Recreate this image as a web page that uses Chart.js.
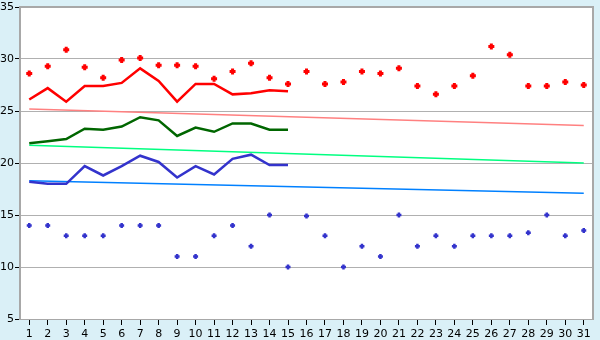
<!DOCTYPE html>
<html>
<head>
<meta charset="utf-8">
<script src="https://cdn.jsdelivr.net/npm/chart.js@4/dist/chart.umd.min.js"></script>
<style>
  html, body { margin: 0; padding: 0; background: #daf0f7; }
  #wrap { width: 600px; height: 340px; }
</style>
</head>
<body>
<div id="wrap"><canvas id="chart" width="600" height="340"></canvas></div>
<script>
const days = Array.from({ length: 31 }, (_, i) => String(i + 1));
const yTicks = [5, 10, 15, 20, 25, 30, 35];

// daily highs / lows (scatter marks)
const highPoints = [28.6, 29.3, 30.9, 29.2, 28.2, 29.9, 30.1, 29.4, 29.4, 29.3,
                    28.1, 28.8, 29.6, 28.2, 27.6, 28.8, 27.6, 27.8, 28.8, 28.6,
                    29.1, 27.4, 26.6, 27.4, 28.4, 31.2, 30.4, 27.4, 27.4, 27.8, 27.5];
const lowPoints  = [14, 14, 13, 13, 13, 14, 14, 14, 11, 11,
                    13, 14, 12, 15, 10, 14.9, 13, 10, 12, 11,
                    15, 12, 13, 12, 13, 13, 13, 13.3, 15, 13, 13.5];

// first half of the month, lines
const maxLine  = [26.1, 27.2, 25.9, 27.4, 27.4, 27.7, 29.1, 27.9, 25.9, 27.6, 27.6, 26.6, 26.7, 27.0, 26.9];
const meanLine = [21.9, 22.1, 22.3, 23.3, 23.2, 23.5, 24.4, 24.1, 22.6, 23.4, 23.0, 23.8, 23.8, 23.2, 23.2];
const minLine  = [18.2, 18.0, 18.0, 19.7, 18.8, 19.7, 20.7, 20.1, 18.6, 19.7, 18.9, 20.4, 20.8, 19.8, 19.8];

// long-term reference lines (start / end values)
const maxTrend  = [25.2, 23.6];
const meanTrend = [21.7, 20.0];
const minTrend  = [18.3, 17.1];

const span = (pair) => days.map((_, i) => i === 0 ? pair[0] : (i === days.length - 1 ? pair[1] : null));

const frame = {
  id: 'frame',
  beforeDraw(chart) {
    const { ctx, chartArea: a } = chart;
    ctx.save();
    ctx.fillStyle = '#ffffff';
    ctx.fillRect(a.left, a.top, a.right - a.left, a.bottom - a.top);
    ctx.restore();
  },
  afterDraw(chart) {
    const { ctx, chartArea: a } = chart;
    ctx.save();
    ctx.strokeStyle = '#a8a8a8';
    ctx.lineWidth = 2;
    ctx.beginPath();
    ctx.moveTo(a.left, a.top);
    ctx.lineTo(a.right, a.top);
    ctx.lineTo(a.right, a.bottom);
    ctx.stroke();
    ctx.restore();
  }
};

Chart.defaults.font.family = '"DejaVu Sans", Verdana, sans-serif';
Chart.defaults.font.size = 11;
Chart.defaults.color = '#000';

new Chart(document.getElementById('chart').getContext('2d'), {
  type: 'line',
  data: {
    labels: days,
    datasets: [
      { data: highPoints, showLine: false, pointStyle: 'cross', pointRadius: 3, pointBorderWidth: 3,
        borderColor: '#ff0000', backgroundColor: '#ff0000' },
      { data: lowPoints, showLine: false, pointStyle: 'cross', pointRadius: 2.5, pointBorderWidth: 2.5,
        borderColor: '#3333cc', backgroundColor: '#3333cc' },
      { data: maxLine, borderColor: '#ff0000', borderWidth: 2.5, pointRadius: 0 },
      { data: meanLine, borderColor: '#006600', borderWidth: 2.5, pointRadius: 0 },
      { data: minLine, borderColor: '#3333cc', borderWidth: 2.5, pointRadius: 0 },
      { data: span(maxTrend), spanGaps: true, borderColor: '#ff8080', borderWidth: 1.5, pointRadius: 0 },
      { data: span(meanTrend), spanGaps: true, borderColor: '#00ff80', borderWidth: 1.5, pointRadius: 0 },
      { data: span(minTrend), spanGaps: true, borderColor: '#0080ff', borderWidth: 1.5, pointRadius: 0 }
    ]
  },
  options: {
    responsive: false,
    animation: false,
    layout: { padding: { top: 5, right: 5, left: 0, bottom: 0 } },
    plugins: { legend: { display: false }, tooltip: { enabled: false } },
    scales: {
      x: {
        offset: true,
        grid: { drawOnChartArea: false, drawTicks: true, tickLength: 6, color: '#000', offset: false },
        border: { display: true, color: '#a8a8a8', width: 1 },
        ticks: { padding: 3, maxRotation: 0, autoSkip: false },
        afterFit(scale) { scale.height = 21; }
      },
      y: {
        min: yTicks[0],
        max: yTicks[yTicks.length - 1],
        afterBuildTicks(scale) { scale.ticks = yTicks.map(v => ({ value: v })); },
        grid: { color: '#b0b0b0', tickLength: 5, tickColor: '#000' },
        border: { display: true, color: '#a8a8a8', width: 2 },
        ticks: { padding: 1, font: { size: 11, lineHeight: 0.9 } },
        afterFit(scale) { scale.width = 20; }
      }
    }
  },
  plugins: [frame]
});
</script>
</body>
</html>
